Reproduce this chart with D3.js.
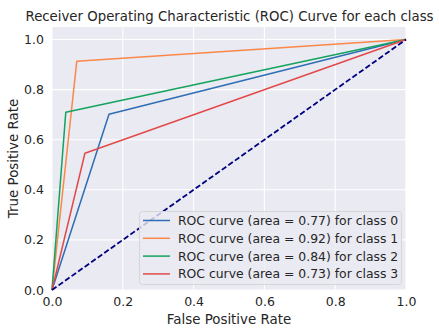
<!DOCTYPE html>
<html><head><meta charset="utf-8">
<script src="https://cdn.jsdelivr.net/npm/d3@7"></script>
<style>body{margin:0;background:#fff}svg{display:block;font-family:"DejaVu Sans",sans-serif}</style>
</head><body>
<svg id="c" width="439" height="333"></svg>
<script>
const classes = ["0", "1", "2", "3"];
const areas = [0.77, 0.92, 0.84, 0.73];
const fpr = [[0, 0.161, 1], [0, 0.070, 1], [0, 0.039, 1], [0, 0.093, 1]];
const tpr = [[0, 0.702, 1], [0, 0.913, 1], [0, 0.710, 1], [0, 0.546, 1]];
const colors = ["#2f6db5", "#fb8749", "#14a35e", "#e24a4a"];
const xTicks = [0, 0.2, 0.4, 0.6, 0.8, 1.0];
const yTicks = [0, 0.2, 0.4, 0.6, 0.8, 1.0];

const svg = d3.select("#c");
const L = 52, R = 406, T = 27, B = 290;
const x = d3.scaleLinear().domain([0, 1]).range([L, R]);
const y = d3.scaleLinear().domain([0, 1.05]).range([B, T]);

svg.append("rect").attr("x", L).attr("y", T).attr("width", R - L).attr("height", B - T).attr("fill", "#eaeaf2");
const g = svg.append("g");
xTicks.forEach(t => g.append("line").attr("x1", x(t)).attr("x2", x(t)).attr("y1", T).attr("y2", B).attr("stroke", "#fff").attr("stroke-width", 1.1));
yTicks.forEach(t => g.append("line").attr("x1", L).attr("x2", R).attr("y1", y(t)).attr("y2", y(t)).attr("stroke", "#fff").attr("stroke-width", 1.1));

const line = d3.line().x(d => x(d[0])).y(d => y(d[1]));
classes.forEach((c, i) => {
  const pts = fpr[i].map((f, j) => [f, tpr[i][j]]);
  svg.append("path").attr("d", line(pts)).attr("fill", "none").attr("stroke", colors[i]).attr("stroke-width", 1.5).attr("stroke-linejoin", "round");
});
svg.append("path").attr("d", line([[0, 0], [1, 1]])).attr("fill", "none").attr("stroke", "#000080").attr("stroke-width", 1.8).attr("stroke-dasharray", "5.5,2.5");

// axes
const xa = svg.append("g").attr("transform", `translate(0,${B})`).call(d3.axisBottom(x).tickValues(xTicks).tickFormat(d3.format(".1f")).tickSize(0).tickPadding(7));
xa.select(".domain").remove();
xa.selectAll("text").attr("font-size", 12.5).attr("fill", "#262626").attr("font-family", "DejaVu Sans");
const ya = svg.append("g").attr("transform", `translate(${L},0)`).call(d3.axisLeft(y).tickValues(yTicks).tickFormat(d3.format(".1f")).tickSize(0).tickPadding(8));
ya.select(".domain").remove();
ya.selectAll("text").attr("font-size", 12.5).attr("fill", "#262626").attr("font-family", "DejaVu Sans");

svg.append("text").attr("x", (L + R) / 2).attr("y", 324).attr("text-anchor", "middle").attr("font-size", 13.4).attr("fill", "#262626").text("False Positive Rate");
svg.append("text").attr("transform", `translate(18,${(T + B) / 2}) rotate(-90)`).attr("text-anchor", "middle").attr("font-size", 13.4).attr("fill", "#262626").text("True Positive Rate");
svg.append("text").attr("x", 229.5).attr("y", 21).attr("text-anchor", "middle").attr("font-size", 13.3).attr("fill", "#262626").text("Receiver Operating Characteristic (ROC) Curve for each class");

// legend
const lg = svg.append("g");
lg.append("rect").attr("x", 139.5).attr("y", 211.5).attr("width", 262).attr("height", 73).attr("rx", 3).attr("fill", "#eaeaf2").attr("fill-opacity", 0.8).attr("stroke", "#d6d6d6");
classes.forEach((c, i) => {
  const yy = 220.5 + i * 17.8;
  lg.append("line").attr("x1", 143).attr("x2", 170).attr("y1", yy).attr("y2", yy).attr("stroke", colors[i]).attr("stroke-width", 1.5);
  lg.append("text").attr("x", 178).attr("y", yy + 4.5).attr("font-size", 12.4).attr("fill", "#262626").text(`ROC curve (area = ${areas[i].toFixed(2)}) for class ${c}`);
});
</script>
</body></html>
